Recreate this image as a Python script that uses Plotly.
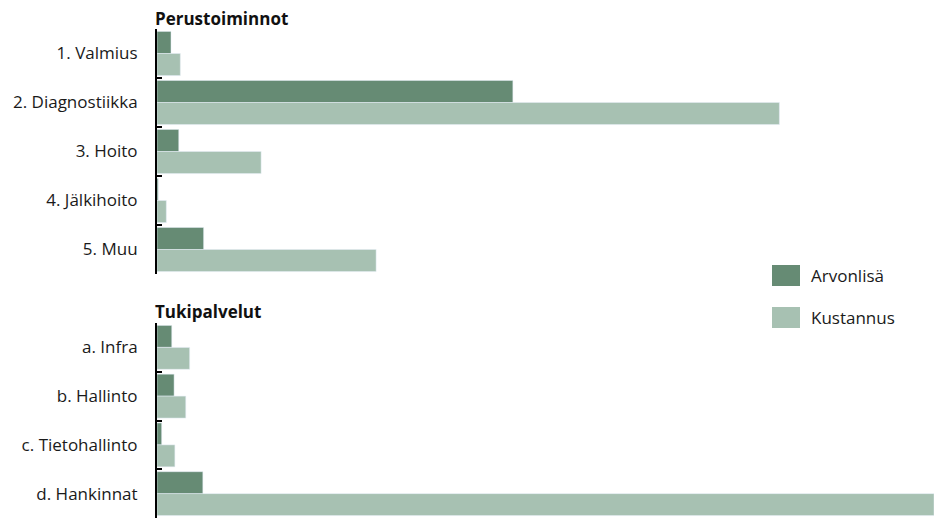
import plotly.graph_objects as go

# Data (relative units)
cats_top = ["1. Valmius", "2. Diagnostiikka", "3. Hoito", "4. Jälkihoito", "5. Muu"]
arvo_top = [1.8, 45.8, 2.8, 0.15, 6.0]
kust_top = [3.0, 80.1, 13.4, 1.2, 28.2]

cats_bot = ["a. Infra", "b. Hallinto", "c. Tietohallinto", "d. Hankinnat"]
arvo_bot = [1.9, 2.2, 0.6, 5.9]
kust_bot = [4.2, 3.7, 2.3, 100.0]

series_names = ["Arvonlisä", "Kustannus"]
group_titles = ["Perustoiminnot", "Tukipalvelut"]

DARK = "#668b74"
LIGHT = "#a7c1b2"
FONT = "Open Sans"

W, H = 934, 518
L = 157

fig = go.Figure()
fig.add_trace(go.Bar(y=cats_top, x=arvo_top, orientation="h", name=series_names[0],
                     marker_color=DARK, xaxis="x", yaxis="y", showlegend=False))
fig.add_trace(go.Bar(y=cats_top, x=kust_top, orientation="h", name=series_names[1],
                     marker_color=LIGHT, xaxis="x", yaxis="y", showlegend=False))
fig.add_trace(go.Bar(y=cats_bot, x=arvo_bot, orientation="h", name=series_names[0],
                     marker_color=DARK, xaxis="x2", yaxis="y2", showlegend=False))
fig.add_trace(go.Bar(y=cats_bot, x=kust_bot, orientation="h", name=series_names[1],
                     marker_color=LIGHT, xaxis="x2", yaxis="y2", showlegend=False))

def py(p):
    return (H - p) / H

def px(p):
    return (p - L) / (W - L)

yax = dict(autorange="reversed", showline=True, linecolor="black", linewidth=2,
           ticks="inside", tickson="boundaries", ticklen=5, tickcolor="black", tickwidth=2,
           tickfont=dict(family=FONT, size=17, color="#1a1a1a"), ticklabelstandoff=14,
           showgrid=False, zeroline=False, fixedrange=True)
xax = dict(range=[0, 100], visible=False, showgrid=False, zeroline=False)

fig.update_layout(
    width=W, height=H,
    margin=dict(l=L, r=0, t=0, b=0),
    paper_bgcolor="white", plot_bgcolor="white",
    barmode="group", bargap=0.1, bargroupgap=0,
    xaxis=dict(xax, anchor="y", domain=[0, 1]),
    xaxis2=dict(xax, anchor="y2", domain=[0, 1]),
    yaxis=dict(yax, anchor="x", domain=[py(274), py(29)]),
    yaxis2=dict(yax, anchor="x2", domain=[0, py(323)]),
    showlegend=False,
)

# Group titles
fig.add_annotation(text="<b>%s</b>" % group_titles[0], xref="paper", yref="paper",
                   x=0, y=py(18), xanchor="left", yanchor="middle", showarrow=False,
                   xshift=-4, font=dict(family=FONT, size=17, color="#111"))
fig.add_annotation(text="<b>%s</b>" % group_titles[1], xref="paper", yref="paper",
                   x=0, y=py(311), xanchor="left", yanchor="middle", showarrow=False,
                   xshift=-4, font=dict(family=FONT, size=17, color="#111"))

# Custom legend
for i, (name, col) in enumerate(zip(series_names, [DARK, LIGHT])):
    top = 265 + 42 * i
    fig.add_shape(type="rect", xref="paper", yref="paper",
                  x0=px(772), x1=px(800), y0=py(top + 21), y1=py(top),
                  fillcolor=col, line_width=0)
    fig.add_annotation(text=name, xref="paper", yref="paper",
                       x=px(811), y=py(top + 10.5), xanchor="left", yanchor="middle",
                       xshift=-2, showarrow=False, font=dict(family=FONT, size=17, color="#1a1a1a"))

fig.write_html("out.html")
